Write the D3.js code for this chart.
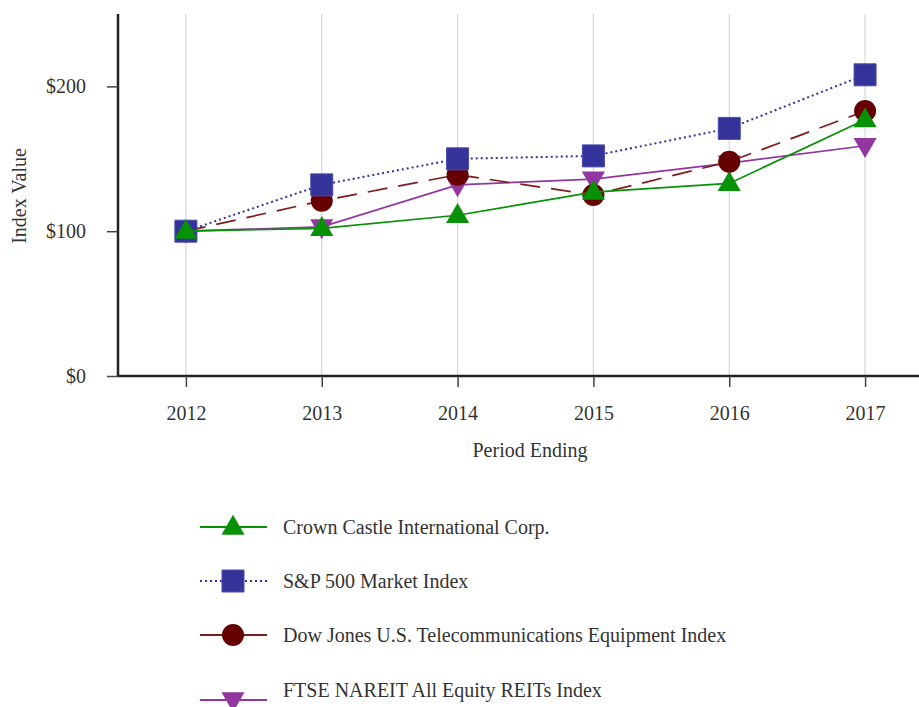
<!DOCTYPE html>
<html>
<head>
<meta charset="utf-8">
<script src="https://cdn.jsdelivr.net/npm/d3@7"></script>
<style>
  body { margin: 0; background: #fff; }
  svg text { font-family: "Liberation Serif", "DejaVu Serif", serif; fill: #333; }
</style>
</head>
<body>
<svg id="chart" width="919" height="707"></svg>
<script>
const years = ['2012', '2013', '2014', '2015', '2016', '2017'];
const crownCastle = [100, 102, 111, 127, 133, 177];
const sp500 = [100, 132, 150, 152, 171, 208];
const dowJonesTelecom = [100, 121, 139, 125, 148, 183];
const ftseNareit = [100, 103, 132, 136, 147, 159];
const yTicks = [0, 100, 200];

const series = [
    { name: 'Crown Castle International Corp.', values: crownCastle, color: '#079107', marker: 'up', dash: null, legendDash: null },
    { name: 'S&P 500 Market Index', values: sp500, color: '#333399', marker: 'square', dash: '2,3', legendDash: '2,3' },
    { name: 'Dow Jones U.S. Telecommunications Equipment Index', values: dowJonesTelecom, color: '#660000', lineColor: '#7f1d1d', marker: 'circle', dash: '20,11', legendDash: null },
    { name: 'FTSE NAREIT All Equity REITs Index', values: ftseNareit, color: '#9237a0', marker: 'down', dash: null, legendDash: null }
];
// draw order: purple lowest, then circles, squares, triangles on top
const drawOrder = [3, 2, 1, 0];

const svg = d3.select('#chart');
const margin = { left: 118, top: 14, bottom: 376 };

const x = d3.scalePoint().domain(years).range([118, 933]).padding(0.5);
const y = d3.scaleLinear().domain([0, 250]).range([margin.bottom, margin.top]);

// vertical gridlines
svg.append('g').selectAll('line').data(years).join('line')
    .attr('x1', d => x(d)).attr('x2', d => x(d))
    .attr('y1', margin.top).attr('y2', margin.bottom)
    .attr('stroke', '#d6d6d6').attr('stroke-width', 1.2);

// axes
const xAxis = svg.append('g').attr('transform', `translate(0,${margin.bottom})`)
    .call(d3.axisBottom(x).tickSize(11).tickPadding(19));
xAxis.select('.domain').attr('d', `M118,0H919`).attr('stroke', '#222').attr('stroke-width', 2.5);
xAxis.selectAll('.tick line').attr('stroke', '#444').attr('stroke-width', 1.5);
xAxis.selectAll('.tick text').attr('font-size', 20).attr('fill', '#333');

const yAxis = svg.append('g').attr('transform', `translate(118,0)`)
    .call(d3.axisLeft(y).tickValues(yTicks).tickFormat(d => '$' + d).tickSize(11).tickPadding(21));
yAxis.select('.domain').attr('d', `M0,${margin.top}V${margin.bottom}`).attr('stroke', '#222').attr('stroke-width', 2.5);
yAxis.selectAll('.tick line').attr('stroke', '#444').attr('stroke-width', 1.5);
yAxis.selectAll('.tick text').attr('font-size', 20).attr('fill', '#333');
svg.selectAll('.tick text').style('font-family', '"Liberation Serif", serif');

// axis titles
svg.append('text').attr('x', 530).attr('y', 457).attr('text-anchor', 'middle')
    .attr('font-size', 20).text('Period Ending');
svg.append('text').attr('transform', 'translate(26,196) rotate(-90)').attr('text-anchor', 'middle')
    .attr('font-size', 20).text('Index Value');

function markerPath(type) {
    if (type === 'square') return d3.symbol(d3.symbolSquare, 484)();
    if (type === 'circle') return d3.symbol(d3.symbolCircle, 380)();
    return d3.symbol(d3.symbolTriangle, 230)();
}
function markerTransform(type, cx, cy) {
    if (type === 'up') return `translate(${cx},${cy + 1})`;
    if (type === 'down') return `translate(${cx},${cy - 1}) rotate(180)`;
    return `translate(${cx},${cy})`;
}

const line = d3.line().x((d, i) => x(years[i])).y(d => y(d));

drawOrder.forEach(idx => {
    const s = series[idx];
    const g = svg.append('g');
    g.append('path').datum(s.values).attr('d', line)
        .attr('fill', 'none').attr('stroke', s.lineColor || s.color)
        .attr('stroke-width', s.marker === 'square' ? 2 : 1.7)
        .attr('stroke-dasharray', s.dash);
    g.selectAll('path.mk').data(s.values).join('path').attr('class', 'mk')
        .attr('d', markerPath(s.marker))
        .attr('transform', (d, i) => markerTransform(s.marker, x(years[i]), y(d)))
        .attr('fill', s.color)
        .attr('stroke', s.marker === 'square' ? '#4a4ab0' : 'none').attr('stroke-width', 1);
});

// legend
const legendY = [527, 581, 635, 700];
const textY = [527, 581, 635, 690];
const legend = svg.append('g');
series.forEach((s, i) => {
    const row = legend.append('g');
    row.append('line').attr('x1', 200).attr('x2', 267).attr('y1', legendY[i]).attr('y2', legendY[i])
        .attr('stroke', s.lineColor || s.color).attr('stroke-width', 2)
        .attr('stroke-dasharray', s.legendDash);
    row.append('path').attr('d', markerPath(s.marker))
        .attr('transform', markerTransform(s.marker, 233, legendY[i]))
        .attr('fill', s.color)
        .attr('stroke', s.marker === 'square' ? '#4a4ab0' : 'none');
    row.append('text').attr('x', 283).attr('y', textY[i]).attr('dy', '0.35em')
        .attr('font-size', 20).text(s.name);
});
</script>
</body>
</html>
